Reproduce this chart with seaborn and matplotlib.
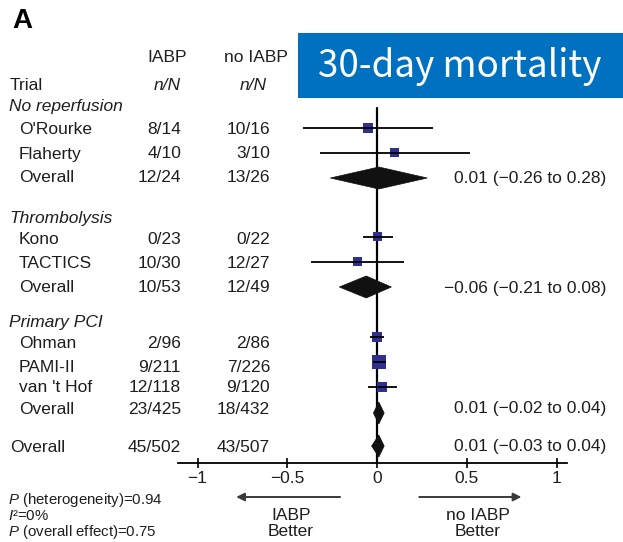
import numpy as np
import pandas as pd
import matplotlib
matplotlib.use("Agg")
import matplotlib.pyplot as plt
from matplotlib.patches import Rectangle, Polygon
import seaborn as sns

# ---------------- data ----------------
groups = ["No reperfusion", "Thrombolysis", "Primary PCI"]
trials = ["O'Rourke", "Flaherty", "Kono", "TACTICS", "Ohman", "PAMI-II", "van 't Hof"]
trial_group = [0, 0, 1, 1, 2, 2, 2]
iabp_n = ["8/14", "4/10", "0/23", "10/30", "2/96", "9/211", "12/118"]
noiabp_n = ["10/16", "3/10", "0/22", "12/27", "2/86", "7/226", "9/120"]
trial_rd = [-0.05, 0.10, 0.00, -0.11, 0.00, 0.01, 0.03]
trial_lo = [-0.41, -0.32, -0.08, -0.37, -0.04, -0.02, -0.05]
trial_hi = [0.31, 0.52, 0.09, 0.15, 0.04, 0.05, 0.11]

pooled_labels = ["Overall", "Overall", "Overall", "Overall"]
pooled_iabp = ["12/24", "10/53", "23/425", "45/502"]
pooled_noiabp = ["13/26", "12/49", "18/432", "43/507"]
pooled_rd = [0.01, -0.06, 0.01, 0.01]
pooled_lo = [-0.26, -0.21, -0.02, -0.03]
pooled_hi = [0.28, 0.08, 0.04, 0.04]

x_ticks = [-1, -0.5, 0, 0.5, 1]
x_ticklabels = ["\u22121", "\u22120.5", "0", "0.5", "1"]

stats_lines = ["$P$ (heterogeneity)=0.94", "$I$\u00b2=0%", "$P$ (overall effect)=0.75"]
title_text = "30-day mortality"

# ---------------- layout (pixel rows) ----------------
W, H = 623, 542
group_y = [106, 218, 322]
trial_text_y = [130, 154, 240, 264, 344, 367, 388]
trial_mark_y = [128, 153, 237, 262, 337, 362, 387]
pooled_text_y = [178, 288, 409, 447]
pooled_mark_y = [178, 287, 413, 446]
square_px = [10, 9, 9, 9, 10, 14, 10]
diamond_half_h = 11
axis_y, top_y = 463, 100
x_left_px, x_right_px = 178, 567
zero_px, unit_px = 377, 179.5

sns.set_theme(style="white")
plt.rcParams["font.family"] = ["Liberation Sans", "DejaVu Sans"]
plt.rcParams["mathtext.fontset"] = "custom"
plt.rcParams["mathtext.rm"] = "Liberation Sans"
plt.rcParams["mathtext.it"] = "Liberation Sans:italic"

TXT = "#1e1e1e"
FS = 12.5

fig = plt.figure(figsize=(W / 100, H / 100), dpi=100)
fig.patch.set_facecolor("white")

# overlay axes in pixel coordinates for the text table
ax0 = fig.add_axes([0, 0, 1, 1])
ax0.set_xlim(0, W)
ax0.set_ylim(H, 0)
ax0.axis("off")

# forest axes
axf = fig.add_axes([x_left_px / W, (H - axis_y) / H,
                    (x_right_px - x_left_px) / W, (axis_y - top_y) / H])
axf.set_xlim((x_left_px - zero_px) / unit_px, (x_right_px - zero_px) / unit_px)
axf.set_ylim(axis_y, top_y)
axf.patch.set_alpha(0)
for s in ["top", "right", "left"]:
    axf.spines[s].set_visible(False)
axf.spines["bottom"].set_color("black")
axf.spines["bottom"].set_linewidth(1.3)
axf.set_yticks([])
axf.set_xticks(x_ticks, x_ticklabels)
axf.tick_params(axis="x", direction="inout", length=7, width=1.2, pad=2,
                labelsize=FS, colors="black", labelcolor=TXT, bottom=True)

# line of no effect
axf.plot([0, 0], [axis_y, 108], color="black", lw=1.6, zorder=1, clip_on=False)

# trial squares and CIs
df = pd.DataFrame({"trial": trials, "rd": trial_rd, "lo": trial_lo, "hi": trial_hi,
                   "y": trial_mark_y})
axf.hlines(df["y"], df["lo"], df["hi"], color="black", lw=1.3, zorder=3)
sns.scatterplot(data=df, x="rd", y="y", marker="s", color="#2f2f8f",
                s=[(p * 0.72) ** 2 for p in square_px], linewidth=0, zorder=2,
                ax=axf, legend=False, clip_on=False)
axf.set_xlabel("")
axf.set_ylabel("")

# pooled diamonds
for est, lo, hi, y in zip(pooled_rd, pooled_lo, pooled_hi, pooled_mark_y):
    axf.add_patch(Polygon([(lo, y), (est, y - diamond_half_h), (hi, y),
                           (est, y + diamond_half_h)], closed=True,
                          facecolor="#111111", edgecolor="#111111", lw=0.5, zorder=4))

# ---------------- texts ----------------
ax0.text(12, 21, "A", fontsize=20, fontweight="bold", color="black", va="center", ha="left")

col1_x, col2_x = 181, 270
ax0.text(167, 58, "IABP", fontsize=FS, color=TXT, ha="center", va="center")
ax0.text(256, 58, "no IABP", fontsize=FS, color=TXT, ha="center", va="center")
ax0.text(10, 85, "Trial", fontsize=FS, color=TXT, ha="left", va="center")
ax0.text(167, 85, "n/N", fontsize=FS, color=TXT, ha="center", va="center", style="italic")
ax0.text(253, 85, "n/N", fontsize=FS, color=TXT, ha="center", va="center", style="italic")

for g, y in zip(groups, group_y):
    ax0.text(9, y, g, fontsize=FS, color=TXT, ha="left", va="center", style="italic")

for name, a, b, y in zip(trials, iabp_n, noiabp_n, trial_text_y):
    ax0.text(19, y, name, fontsize=FS, color=TXT, ha="left", va="center")
    ax0.text(col1_x, y, a, fontsize=FS, color=TXT, ha="right", va="center")
    ax0.text(col2_x, y, b, fontsize=FS, color=TXT, ha="right", va="center")


def fmt(v):
    return f"{v:.2f}".replace("-", "\u2212")


for i, (lab, a, b, y, est, lo, hi) in enumerate(zip(pooled_labels, pooled_iabp, pooled_noiabp,
                                                      pooled_text_y, pooled_rd, pooled_lo, pooled_hi)):
    ax0.text(19 if i < 3 else 10, y, lab, fontsize=FS, color=TXT, ha="left", va="center")
    ax0.text(col1_x, y, a, fontsize=FS, color=TXT, ha="right", va="center")
    ax0.text(col2_x, y, b, fontsize=FS, color=TXT, ha="right", va="center")
    ax0.text(606, y, f"{fmt(est)} ({fmt(lo)} to {fmt(hi)})", fontsize=FS, color=TXT,
             ha="right", va="center")

for line, y in zip(stats_lines, [500, 516, 532]):
    ax0.text(8, y, line, fontsize=10.8, color=TXT, ha="left", va="center")

# direction arrows (in effect-scale coordinates)
arrow_y = 497
axf.annotate("", xy=(-0.80, arrow_y), xytext=(-0.19, arrow_y), xycoords="data",
             arrowprops=dict(arrowstyle="-|>", color="#3a3a3a", lw=1.4, mutation_scale=12),
             annotation_clip=False)
axf.annotate("", xy=(0.82, arrow_y), xytext=(0.22, arrow_y), xycoords="data",
             arrowprops=dict(arrowstyle="-|>", color="#3a3a3a", lw=1.4, mutation_scale=12),
             annotation_clip=False)
ax0.text(291, 515, "IABP", fontsize=FS, color=TXT, ha="center", va="center")
ax0.text(291, 532, "Better", fontsize=FS, color=TXT, ha="center", va="center")
ax0.text(478, 515, "no IABP", fontsize=FS, color=TXT, ha="center", va="center")
ax0.text(478, 532, "Better", fontsize=FS, color=TXT, ha="center", va="center")

# title box
ax0.add_patch(Rectangle((298, 33), W - 298, 65, facecolor="#0070c0", edgecolor="none", zorder=5))
ax0.text(460, 67, title_text, fontsize=26.5, color="white", ha="center", va="center",
         family=["Noto Sans CJK KR", "DejaVu Sans"], zorder=6)

fig.savefig("out.png", dpi=100, facecolor="white")
